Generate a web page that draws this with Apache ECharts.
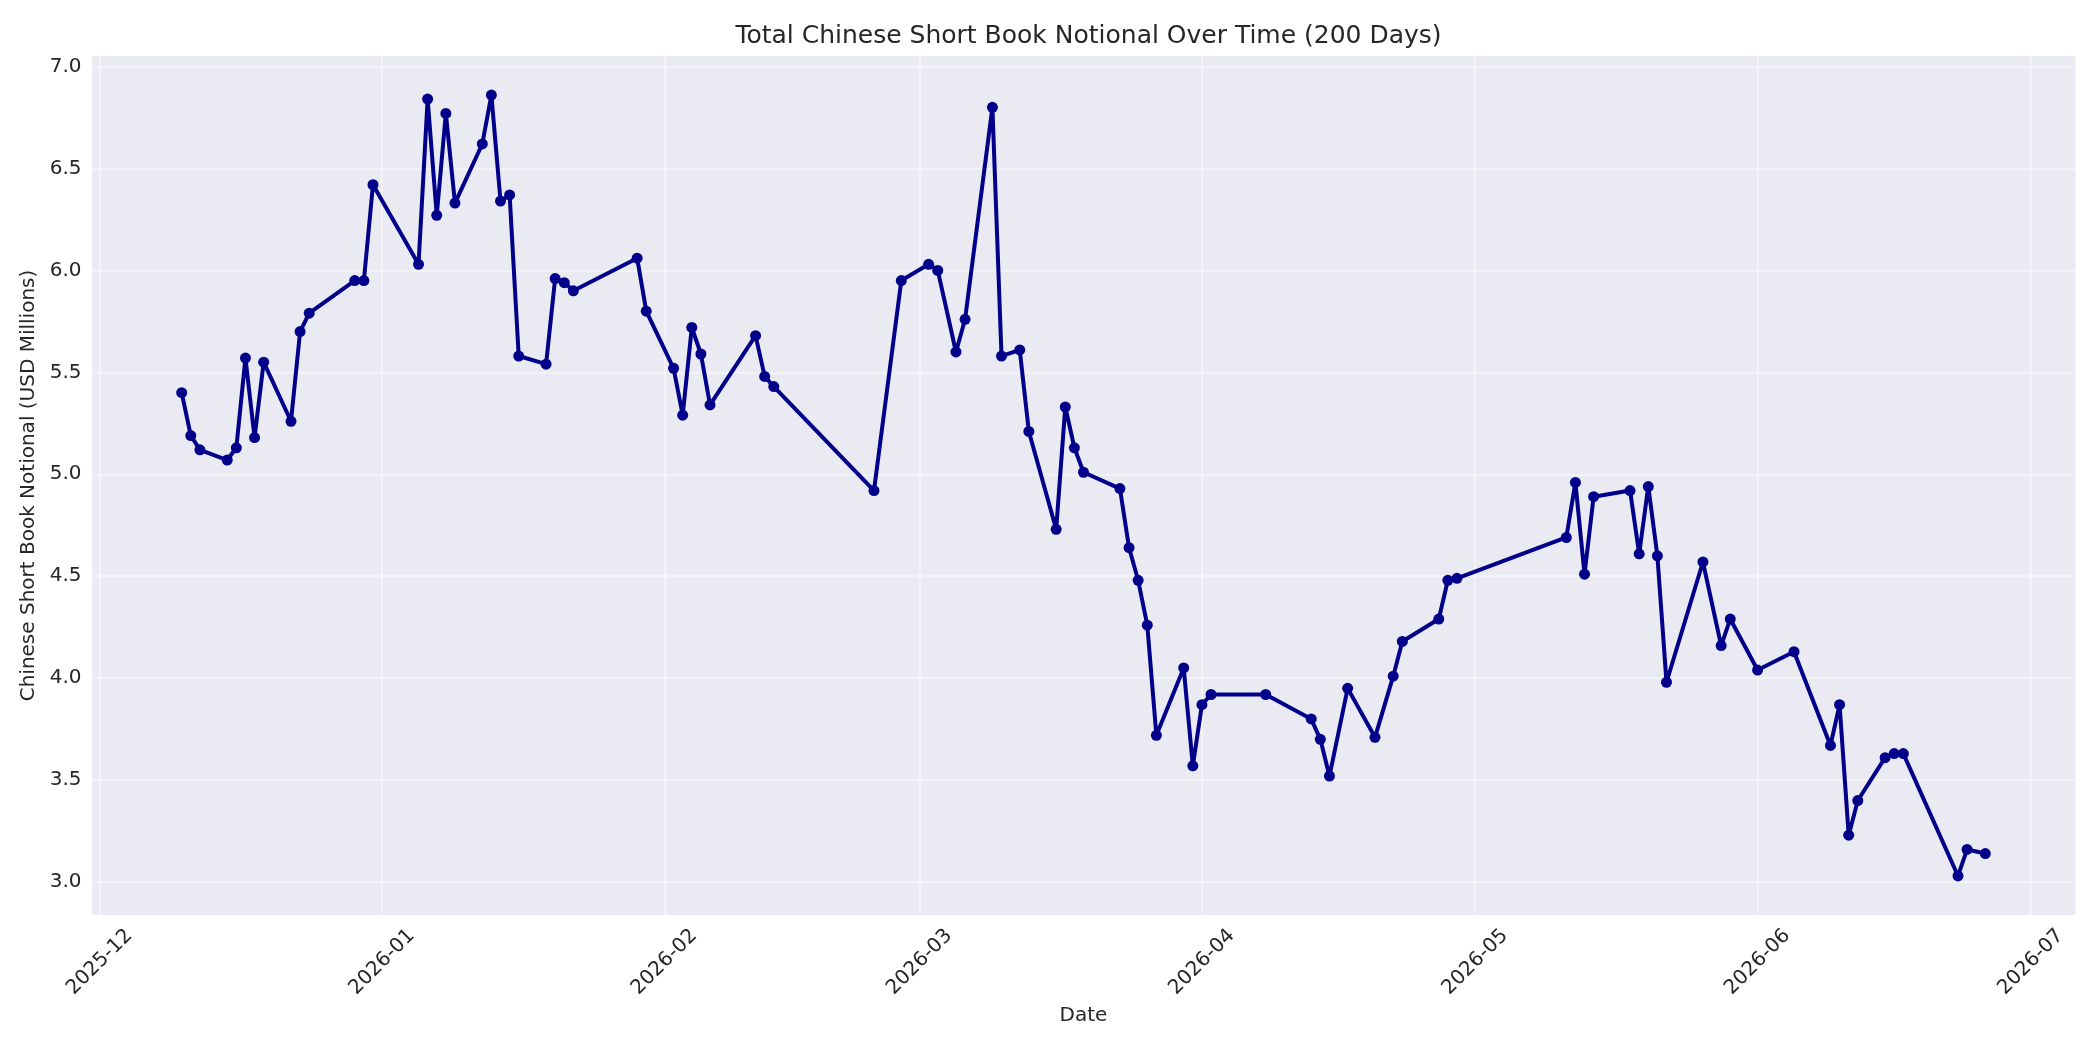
<!DOCTYPE html>
<html lang="en">
<head>
    <meta charset="UTF-8">
    <title>Total Chinese Short Book Notional Over Time (200 Days)</title>
    <script src="https://cdn.jsdelivr.net/npm/echarts@6/dist/echarts.min.js"></script>
    <style>
        html, body {
            margin: 0;
            padding: 0;
            background: #ffffff;
        }
        #chart {
            width: 2100px;
            height: 1050px;
        }
    </style>
</head>
<body>
<div id="chart"></div>
<script>
    // trading days that have a reading
    const dates = [
        '2025-12-10', '2025-12-11', '2025-12-12', '2025-12-15', '2025-12-16', '2025-12-17', '2025-12-18', '2025-12-19',
        '2025-12-22', '2025-12-23', '2025-12-24', '2025-12-29', '2025-12-30', '2025-12-31',
        '2026-01-05', '2026-01-06', '2026-01-07', '2026-01-08', '2026-01-09',
        '2026-01-12', '2026-01-13', '2026-01-14', '2026-01-15', '2026-01-16',
        '2026-01-19', '2026-01-20', '2026-01-21', '2026-01-22', '2026-01-29', '2026-01-30',
        '2026-02-02', '2026-02-03', '2026-02-04', '2026-02-05', '2026-02-06',
        '2026-02-11', '2026-02-12', '2026-02-13', '2026-02-24', '2026-02-27',
        '2026-03-02', '2026-03-03', '2026-03-05', '2026-03-06', '2026-03-09', '2026-03-10', '2026-03-12', '2026-03-13',
        '2026-03-16', '2026-03-17', '2026-03-18', '2026-03-19',
        '2026-03-23', '2026-03-24', '2026-03-25', '2026-03-26', '2026-03-27',
        '2026-03-30', '2026-03-31', '2026-04-01', '2026-04-02', '2026-04-08',
        '2026-04-13', '2026-04-14', '2026-04-15', '2026-04-17', '2026-04-20', '2026-04-22', '2026-04-23',
        '2026-04-27', '2026-04-28', '2026-04-29',
        '2026-05-11', '2026-05-12', '2026-05-13', '2026-05-14',
        '2026-05-18', '2026-05-19', '2026-05-20', '2026-05-21', '2026-05-22',
        '2026-05-26', '2026-05-28', '2026-05-29', '2026-06-01', '2026-06-05',
        '2026-06-09', '2026-06-10', '2026-06-11', '2026-06-12',
        '2026-06-15', '2026-06-16', '2026-06-17', '2026-06-23', '2026-06-24', '2026-06-26'
    ];

    // total short book notional, USD millions
    const notional = [
        5.40, 5.19, 5.12, 5.07, 5.13, 5.57, 5.18, 5.55,
        5.26, 5.70, 5.79, 5.95, 5.95, 6.42,
        6.03, 6.84, 6.27, 6.77, 6.33,
        6.62, 6.86, 6.34, 6.37, 5.58,
        5.54, 5.96, 5.94, 5.90, 6.06, 5.80,
        5.52, 5.29, 5.72, 5.59, 5.34,
        5.68, 5.48, 5.43, 4.92, 5.95,
        6.03, 6.00, 5.60, 5.76, 6.80, 5.58, 5.61, 5.21,
        4.73, 5.33, 5.13, 5.01,
        4.93, 4.64, 4.48, 4.26, 3.72,
        4.05, 3.57, 3.87, 3.92, 3.92,
        3.80, 3.70, 3.52, 3.95, 3.71, 4.01, 4.18,
        4.29, 4.48, 4.49,
        4.69, 4.96, 4.51, 4.89,
        4.92, 4.61, 4.94, 4.60, 3.98,
        4.57, 4.16, 4.29, 4.04, 4.13,
        3.67, 3.87, 3.23, 3.40,
        3.61, 3.63, 3.63, 3.03, 3.16, 3.14
    ];

    const FONT = 'DejaVu Sans';
    const TEXT = '#262626';
    const LINE = '#00008b';
    const GRID_LINE = 'rgba(255,255,255,0.4)';

    // axis limits padded by 5% of the data span on each side
    const t0 = new Date(dates[0]).getTime();
    const t1 = new Date(dates[dates.length - 1]).getTime();
    const tPad = (t1 - t0) * 0.05;
    const vMin = Math.min(...notional);
    const vMax = Math.max(...notional);
    const vPad = (vMax - vMin) * 0.05;

    const chart = echarts.init(document.getElementById('chart'), null, { renderer: 'canvas' });

    chart.setOption({
        animation: false,
        backgroundColor: '#ffffff',
        textStyle: { fontFamily: FONT, color: TEXT },
        title: {
            text: 'Total Chinese Short Book Notional Over Time (200 Days)',
            left: 1083.5,
            top: 19,
            textAlign: 'center',
            textStyle: { fontFamily: FONT, fontSize: 25, fontWeight: 'normal', color: TEXT }
        },
        grid: {
            left: 91.5,
            right: 24.5,
            top: 56,
            bottom: 135,
            show: true,
            backgroundColor: '#eaeaf2',
            borderWidth: 0,
            containLabel: false
        },
        xAxis: {
            type: 'time',
            min: t0 - tPad,
            max: t1 + tPad,
            splitNumber: 7,
            name: 'Date',
            nameLocation: 'middle',
            nameGap: 88,
            nameTextStyle: { fontFamily: FONT, fontSize: 20, color: TEXT },
            axisLine: { show: false },
            axisTick: { show: false },
            axisLabel: {
                formatter: '{yyyy}-{MM}',
                rotate: 45,
                margin: 47,
                align: 'center',
                verticalAlign: 'middle',
                fontFamily: FONT,
                fontSize: 20,
                color: TEXT,
                hideOverlap: false
            },
            splitLine: { show: true, lineStyle: { color: GRID_LINE, width: 2 } }
        },
        yAxis: {
            type: 'value',
            min: vMin - vPad,
            max: vMax + vPad,
            splitNumber: 8,
            name: 'Chinese Short Book Notional (USD Millions)',
            nameLocation: 'middle',
            nameGap: 43,
            nameTextStyle: { fontFamily: FONT, fontSize: 20, color: TEXT },
            axisLine: { show: false },
            axisTick: { show: false },
            axisLabel: {
                margin: 10,
                fontFamily: FONT,
                fontSize: 20,
                color: TEXT,
                formatter: function (v) {
                    return Math.abs(v * 2 - Math.round(v * 2)) < 1e-6 ? v.toFixed(1) : '';
                }
            },
            splitLine: {
                show: true,
                showMinLine: false,
                showMaxLine: false,
                lineStyle: { color: GRID_LINE, width: 2 }
            }
        },
        series: [{
            name: 'Short Book Notional',
            type: 'line',
            data: dates.map((d, i) => [d, notional[i]]),
            symbol: 'circle',
            symbolSize: 11,
            showAllSymbol: true,
            lineStyle: { color: LINE, width: 4 },
            itemStyle: { color: LINE },
            emphasis: { disabled: true }
        }]
    });
</script>
</body>
</html>
